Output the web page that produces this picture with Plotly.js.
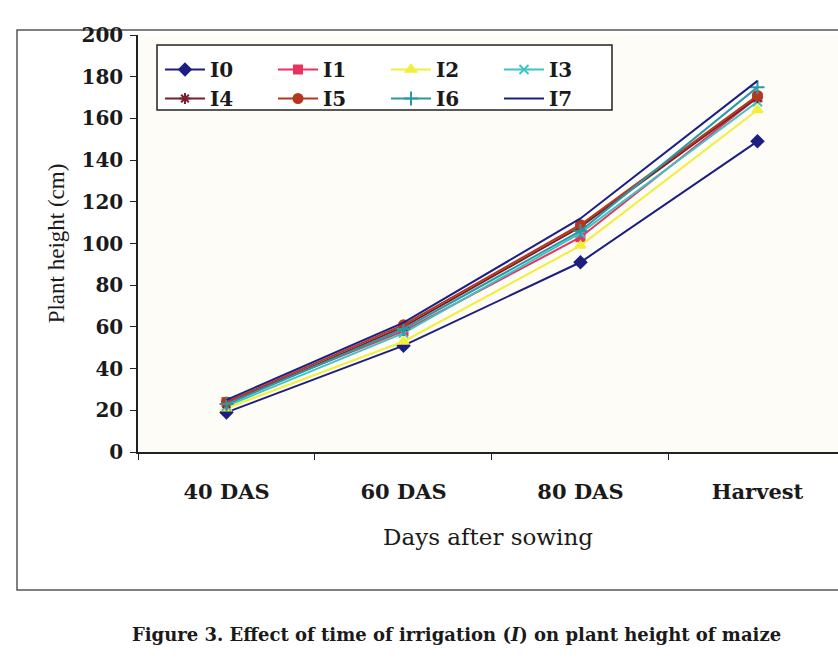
<!DOCTYPE html>
<html>
<head>
<meta charset="utf-8">
<script src="https://cdn.plot.ly/plotly-3.0.1.min.js"></script>
<style>html,body{margin:0;padding:0;background:#fff;}#chart{width:838px;height:667px;}</style>
</head>
<body>
<div id="chart"></div>
<script>
var categories = ["40 DAS", "60 DAS", "80 DAS", "Harvest"];
var seriesNames = ["I0", "I1", "I2", "I3", "I4", "I5", "I6", "I7"];
var I0 = [19, 51, 91, 149];
var I1 = [24, 58, 103, 170];
var I2 = [21, 53, 99, 164];
var I3 = [22, 57, 105, 168];
var I4 = [23, 60, 108, 170];
var I5 = [24, 61, 109, 171];
var I6 = [23, 59, 106, 175];
var I7 = [25, 62, 112, 178];
var yTicks = [0, 20, 40, 60, 80, 100, 120, 140, 160, 180, 200];

var seriesValues = [I0, I1, I2, I3, I4, I5, I6, I7];
var colors = ["#1c1f80", "#e8335f", "#f2ee3a", "#3cc4c4", "#7a1f2b", "#b5381e", "#2a98a6", "#1c1f86"];
var symbols = ["diamond", "square", "triangle-up", "x-thin-open", "asterisk-open", "circle", "cross-thin-open", "circle"];
var sizes = [9, 8, 9, 9, 9, 9, 10, 0];

var traces = seriesNames.map(function (n, i) {
  return {
    type: "scatter", mode: i === 7 ? "lines" : "lines+markers",
    name: n, x: categories, y: seriesValues[i],
    line: {color: colors[i], width: 2},
    marker: {symbol: symbols[i], size: sizes[i], color: colors[i], line: {color: colors[i], width: 2}}
  };
});

var L = 138, R = 838, T = 35, B = 452;
var W = R - L, H = B - T;
function px(x) { return (x - L) / W; }
function py(y) { return (B - y) / H; }

var serifW = "DejaVu Serif";
var layout = {
  width: 838, height: 667,
  margin: {l: L, r: 0, t: T, b: 667 - B},
  paper_bgcolor: "#ffffff",
  plot_bgcolor: "#fdfcf7",
  font: {family: "Liberation Serif", color: "#1a1a1a"},
  showlegend: true,
  legend: {
    orientation: "h", x: px(170), y: py(50), xanchor: "left", yanchor: "top",
    bgcolor: "rgba(0,0,0,0)", borderwidth: 0,
    font: {family: serifW, size: 20, color: "#1a1a1a", weight: "bold"},
    entrywidth: 58, itemwidth: 40, tracegroupgap: 0
  },
  xaxis: {
    type: "category", range: [-0.5, 3.455],
    showline: true, linecolor: "#222", linewidth: 1.5,
    ticks: "outside", tickson: "boundaries", ticklen: 6, tickcolor: "#222",
    showgrid: false, zeroline: false,
    tickfont: {family: serifW, size: 21, weight: "bold", color: "#1a1a1a"},
    ticklabelstandoff: 20,
    title: {text: "Days after sowing", font: {family: serifW, size: 23, color: "#1a1a1a"}, standoff: 26}
  },
  yaxis: {
    range: [0, 200], tickvals: yTicks, ticktext: yTicks.map(String),
    showline: true, linecolor: "#222", linewidth: 1.5,
    ticks: "outside", ticklen: 6, tickcolor: "#222",
    showgrid: false, zeroline: false,
    tickfont: {family: serifW, size: 20, weight: "bold", color: "#1a1a1a"},
    ticklabelstandoff: 3,
    title: {text: "Plant height (cm)", font: {family: "Liberation Serif", size: 23, color: "#1a1a1a"}, standoff: 10}
  },
  shapes: [
    {type: "rect", xref: "paper", yref: "paper", x0: px(17), x1: px(850), y0: py(590), y1: py(30),
     line: {color: "#555", width: 1.5}, layer: "below"},
    {type: "rect", xref: "paper", yref: "paper", x0: px(157), x1: px(612), y0: py(110), y1: py(45),
     fillcolor: "#ffffff", line: {color: "#222", width: 1.5}, layer: "above"}
  ],
  annotations: [
    {xref: "paper", yref: "paper", x: px(456), y: py(634), xanchor: "center", yanchor: "middle",
     showarrow: false, text: "<b>Figure 3. Effect of time of irrigation (<i>I</i>) on plant height of maize</b>",
     font: {family: serifW, size: 18, color: "#1a1a1a"}}
  ]
};

Plotly.newPlot("chart", traces, layout, {displayModeBar: false});
</script>
</body>
</html>
